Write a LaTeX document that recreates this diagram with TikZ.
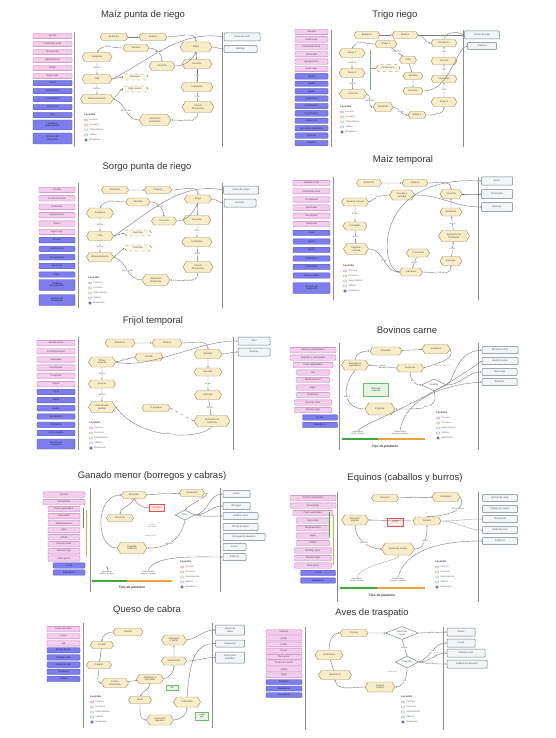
\documentclass[tikz,border=0pt]{standalone}
\usepackage{fontspec}
\setmainfont{Liberation Sans}
\usetikzlibrary{shapes.geometric,shapes.symbols,arrows.meta}
\definecolor{pkf}{HTML}{F4CCEE}
\definecolor{pkb}{HTML}{C27CC0}
\definecolor{blf}{HTML}{7D7DEE}
\definecolor{blb}{HTML}{4E4EC4}
\definecolor{hxf}{HTML}{F9EDC8}
\definecolor{hxb}{HTML}{A08C60}
\definecolor{otf}{HTML}{F2F6FB}
\definecolor{otb}{HTML}{6E7E90}
\definecolor{gnf}{HTML}{E6F4E2}
\definecolor{gnb}{HTML}{6CBF6A}
\definecolor{rdf}{HTML}{FDE8E8}
\definecolor{rdb}{HTML}{E05050}
\definecolor{lnc}{HTML}{8E8E8E}
\definecolor{cnc}{HTML}{7A7A7A}
\definecolor{grbar}{HTML}{3DAA3D}
\definecolor{orbar}{HTML}{F0A040}
\tikzset{
 tx/.style={font=\fontsize{2.4}{2.7}\selectfont, text=black!70, align=center, inner sep=0.3pt},
 pk/.style={tx, draw=pkb, fill=pkf, line width=0.4pt, rounded corners=0.8pt, minimum width=#1, minimum height=5.4pt},
 bl/.style={tx, draw=blb, fill=blf, line width=0.4pt, rounded corners=0.8pt, minimum width=#1, minimum height=5.4pt, text=black!85},
 hx/.style 2 args={tx, shape=signal, signal to=east and west, signal pointer angle=115, draw=hxb, fill=hxf, line width=0.45pt, minimum width=#1, minimum height=#2},
 dh/.style 2 args={hx={#1}{#2}, dashed, draw=hxb!80!black, fill=hxf!50},
 ot/.style 2 args={tx, draw=otb, fill=otf, line width=0.5pt, rounded corners=0.8pt, minimum width=#1, minimum height=#2},
 gb/.style 2 args={tx, draw=gnb, fill=gnf, line width=0.5pt, minimum width=#1, minimum height=#2},
 rb/.style 2 args={tx, draw=rdb, fill=rdf, line width=0.4pt, minimum width=#1, minimum height=#2, text=rdb},
 dm/.style 2 args={tx, diamond, aspect=2, draw=otb, fill=white, line width=0.45pt, minimum width=#1, minimum height=#2},
 ttl/.style={font=\fontsize{9.5}{11}\selectfont, text=black!80},
 vl/.style={draw=lnc, line width=0.9pt},
 cn/.style={draw=cnc, line width=0.4pt, -{Stealth[length=1.6pt,width=1.3pt]}},
 lab/.style={font=\fontsize{2.1}{2.4}\selectfont, text=black!70, fill=white, inner sep=0.2pt, align=center},
 lgh/.style={anchor=west, font=\fontsize{2.6}{3}\selectfont\bfseries, text=black!75, inner sep=0.2pt},
 lgt/.style={anchor=west, font=\fontsize{2.3}{2.7}\selectfont, text=black!60, inner sep=0.2pt},
 lgi/.style={minimum width=3pt, minimum height=2pt, inner sep=0pt, rounded corners=0.5pt, line width=0.3pt},
 gbar/.style={draw=grbar, line width=1.6pt},
 obar/.style={draw=orbar, line width=1.6pt},
 tp/.style={font=\fontsize{3.3}{4}\selectfont\bfseries, text=black!80},
 bk/.style={font=\fontsize{2.1}{2.4}\selectfont, text=black!65, align=center, inner sep=0.2pt}
}
\newcommand\lgnd[3]{%
 \begin{scope}[shift={(#2,#3)}]
 \node[lgh] (#1-0) at (0,0) {Leyenda};
 \node[lgi,draw=pkb,fill=pkf] (#1-i1) at (2,5) {};
 \node[lgt] (#1-t1) at (5,5) {Insumos};
 \node[lgi,draw=hxb,fill=hxf] (#1-i2) at (2,10) {};
 \node[lgt] (#1-t2) at (5,10) {Procesos};
 \node[lgi,draw=gnb,fill=gnf] (#1-i3) at (2,15) {};
 \node[lgt] (#1-t3) at (5,15) {Subproductos};
 \node[lgi,draw=otb,fill=otf] (#1-i4) at (2,20) {};
 \node[lgt] (#1-t4) at (5,20) {Salidas};
 \node[circle,draw=blb,fill=blf,minimum size=2.6pt,inner sep=0pt] (#1-i5) at (2,25) {};
 \node[lgt] (#1-t5) at (5,25) {Maquinaria};
 \end{scope}}
\begin{document}
\begin{tikzpicture}[x=1pt,y=-1pt]
\path[use as bounding box, fill=white] (0,0) rectangle (555,738);

%%%%%%%%%%%%%%%% Panel 1: Maiz punta de riego
\node[ttl] (a-t) at (143,15) {Maíz punta de riego};
\draw[vl] (74,32) -- (74,147);
\draw[vl] (222,32) -- (222,147);
\foreach \t [count=\i] in {Semilla,Fertilizante base,Fertilizantes,Agroquímicos,Diésel,Agua riego}
  \node[pk=39] (a-p\i) at (52.5,{28+8*\i}) {\t};
\foreach \t [count=\i] in {Tractor,Sembradora,Cosechadora,Aspersora,Pipa}
  \node[bl=39] (a-b\i) at (52.5,{75+8*\i}) {\t};
\node[bl=39,minimum height=10pt] (a-b6) at (52.5,125) {Trilladora\\desgranadora};
\node[bl=39,minimum height=11pt] (a-b7) at (52.5,138.5) {Vehículo de\\transporte};
\node[hx={28}{7}] (a-h1) at (114,37) {Barbecho};
\node[hx={28}{7}] (a-h2) at (153,37) {Rastreo};
\node[hx={26}{7}] (a-h3) at (136,48) {Siembra};
\node[hx={32}{10}] (a-h4) at (196,47) {Riego};
\node[hx={30}{9}] (a-h5) at (97,57) {Desgrane};
\node[hx={26}{9}] (a-h6) at (162,66) {Cosecha};
\node[hx={30}{9}] (a-h7) at (197,64) {Escarda};
\node[hx={30}{9}] (a-h8) at (97,79) {Trilla};
\node[dh={26}{6}] (a-d1) at (135,77) {Rastrojeo};
\node[dh={26}{6}] (a-d2) at (135,89) {Riego auxilio};
\node[hx={33}{9}] (a-h9) at (97,99) {Almacenamiento};
\node[hx={32}{9}] (a-h10) at (197,87) {Cultivadas};
\node[hx={32}{11}] (a-h11) at (198,107) {Control\\fitosanitario};
\node[hx={32}{11}] (a-h12) at (155,120) {Aplicación\\fertilizante};
\node[ot={36}{8}] (a-o1) at (242,37) {Grano de maíz};
\node[ot={33}{7}] (a-o2) at (240.5,49) {Rastrojo};
\draw[cn] (a-h1) -- (a-h2);
\draw[cn] (a-h2.east) to[out=0,in=90] (a-h4.north);
\draw[cn] (a-h3.west) to[out=180,in=60] node[lab] (a-l1) {180 km} (a-h5.north);
\draw[cn] (a-h5) -- node[lab] (a-l2) {190 km} (a-h8);
\draw[cn] (a-h8) -- node[lab] (a-l3) {160 km} (a-h9);
\draw[cn] (a-h12.west) to[out=180,in=-20] node[lab] (a-l4) {98-100 km} (a-h9.east);
\draw[cn] (a-h11.south) to[out=-90,in=0] node[lab] (a-l5) {50-58 km} (a-h12.east);
\draw[cn] (a-h10) -- node[lab] (a-l6) {2 km} (a-h11);
\draw[cn] (a-h7) -- node[lab] (a-l7) {3 km} (a-h10);
\draw[cn] (a-h4) -- (a-h7);
\draw[cn] (a-h3.east) to[out=0,in=90] node[lab] (a-l8) {160 km} (a-h6.north);
\draw[cn] (a-h6.east) to[out=0,in=-120] (a-h4.south);
\draw[cn] (a-h8.east) .. controls (150,60) and (180,30) .. (a-o1.west);
\draw[cn] (a-h4.east) to[out=0,in=180] (a-o2.west);
\draw[cn] (a-h8.east) -- (a-d1.west);
\draw[cn] (a-h9.east) -- (a-d2.west);
\lgnd{a-lg}{84}{115}

%%%%%%%%%%%%%%%% Panel 2: Trigo riego
\node[ttl] (b-t) at (395,15) {Trigo riego};
\draw[vl] (331,30) -- (331,147);
\draw[vl] (463,30) -- (463,147);
\foreach \t [count=\i] in {Semilla,Fertilizante,Fertilizante base,Herbicidas,Agroquímicos,Agua riego}
  \node[pk=33] (b-p\i) at (311.5,{24.6+7.4*\i}) {\t};
\foreach \t [count=\i] in {Tractor,Arado,Rastra,Sembradora,Fertilizadora,Cosechadora,Aspersora,Surcadora niveladora,Vehículo,Trilladora}
  \node[bl=33] (b-b\i) at (311.5,{69+7.4*\i}) {\t};
\node[hx={26}{7}] (b-h1) at (367,35) {Barbecho};
\node[hx={26}{7}] (b-h2) at (405,35) {Rastreo};
\node[hx={22}{7}] (b-h3) at (386,44) {Riego 1};
\node[hx={26}{9}] (b-h4) at (352,53) {Riego 2};
\node[hx={17}{7}] (b-h5) at (408,60) {Trilla};
\node[hx={26}{7}] (b-h6) at (444,43) {Nivelación};
\node[hx={26}{7}] (b-h7) at (444,61) {Surcado};
\node[hx={26}{9}] (b-h8) at (352,73) {Riego 3};
\node[dh={24}{7}] (b-d1) at (388,68) {Fertilización};
\node[hx={20}{7}] (b-h9) at (413,76) {Siembra};
\node[hx={26}{7}] (b-h10) at (444,79) {Fertilizado};
\node[hx={20}{7}] (b-h11) at (413,91) {Escarda};
\node[hx={27}{9}] (b-h12) at (353,94) {Cosecha};
\node[hx={26}{9}] (b-h13) at (444,102) {Riego 4};
\node[hx={20}{9}] (b-h14) at (383,107) {Herbicida};
\node[hx={18}{7}] (b-h15) at (417,115) {Riego 5};
\node[ot={35}{8}] (b-o1) at (482,35) {Grano de trigo};
\node[ot={29}{7}] (b-o2) at (482,46) {Rastrojo};
\draw[draw=gnb,line width=0.8pt] (370,50) -- (370,90);
\draw[draw=gnb,line width=0.5pt] (370,68) -- (b-d1.west);
\draw[cn] (b-h1) -- (b-h2);
\draw[cn] (b-h2.east) -- (b-o1.west);
\draw[cn] (b-h2.east) to[out=0,in=180] (b-h6.west);
\draw[cn] (b-h3.west) to[out=180,in=60] node[lab] (b-l1) {10-60 km} (b-h4.north);
\draw[cn] (b-h4) -- node[lab] (b-l2) {50-60 km} (b-h8);
\draw[cn] (b-h8) -- node[lab] (b-l3) {60 km} (b-h12);
\draw[cn] (b-h12.east) to[out=-10,in=180] node[lab] (b-l4) {40-60 km} (b-h14.west);
\draw[cn] (b-h14.east) to[out=-10,in=180] node[lab] (b-l5) {50 km} (b-h15.west);
\draw[cn] (b-h15.east) to[out=0,in=-90] node[lab] (b-l6) {3 km} (b-h13.south);
\draw[cn] (b-h13) -- node[lab] (b-l7) {3 km} (b-h10);
\draw[cn] (b-h10) -- node[lab] (b-l8) {2 km} (b-h7);
\draw[cn] (b-h7) -- node[lab] (b-l9) {2 km} (b-h6);
\draw[cn] (b-h3) -- node[lab] (b-l10) {50-80 km} (b-h5);
\draw[cn] (b-h5) -- (b-h9);
\draw[cn] (b-h9) -- (b-h11);
\draw[cn] (b-h11.east) .. controls (450,91) and (455,50) .. (b-o2.west);
\draw[cn] (b-h6.north) .. controls (444,34) and (455,30) .. (b-o1.west);
\lgnd{b-lg}{340}{107}

%%%%%%%%%%%%%%%% Panel 3: Sorgo punta de riego
\node[ttl] (c-t) at (147,167) {Sorgo punta de riego};
\draw[vl] (78,183) -- (78,308);
\draw[vl] (222,183) -- (222,308);
\foreach \t [count=\i] in {Semilla,Fertilizante base,Herbicidas,Agroquímicos,Diésel,Agua riego}
  \node[pk=36] (c-p\i) at (57,{181.5+8.4*\i}) {\t};
\foreach \t [count=\i] in {Tractor,Sembradora,Cosechadora,Aspersora,Pipa}
  \node[bl=36] (c-b\i) at (57,{231.5+8.6*\i}) {\t};
\node[bl=36,minimum height=11pt] (c-b6) at (57,285) {Trilladora\\desgranadora};
\node[bl=36,minimum height=11pt] (c-b7) at (57,300) {Vehículo de\\transporte};
\node[hx={27}{7}] (c-h1) at (115,190) {Barbecho};
\node[hx={27}{7}] (c-h2) at (158,190) {Rastreo};
\node[hx={27}{8}] (c-h3) at (198,199) {Riego};
\node[hx={24}{8}] (c-h4) at (138,202) {Siembra};
\node[hx={27}{10}] (c-h5) at (100,213) {Desgrane};
\node[hx={25}{8}] (c-h6) at (164,221) {Cosecha};
\node[hx={28}{9}] (c-h7) at (197,220) {Escarda};
\node[hx={27}{9}] (c-h8) at (100,236) {Trilla};
\node[dh={27}{6}] (c-d1) at (138,233) {Rastrojeo};
\node[dh={27}{6}] (c-d2) at (138,248) {Pastoreo};
\node[hx={27}{9}] (c-h9) at (100,257) {Almacenamiento};
\node[hx={30}{9}] (c-h10) at (197,242) {Cultivadas};
\node[hx={30}{11}] (c-h11) at (198,267) {Control\\fitosanitario};
\node[hx={28}{11}] (c-h12) at (156,280) {Aplicación\\fertilizante};
\node[ot={35}{8}] (c-o1) at (241,190) {Grano de sorgo};
\node[ot={32}{8}] (c-o2) at (240,203) {Rastrojo};
\draw[cn] (c-h1) -- (c-h2);
\draw[cn] (c-h2.east) to[out=0,in=90] (c-h3.north);
\draw[cn] (c-h4.west) to[out=180,in=60] node[lab] (c-l1) {180 km} (c-h5.north);
\draw[cn] (c-h5) -- node[lab] (c-l2) {190 km} (c-h8);
\draw[cn] (c-h8) -- node[lab] (c-l3) {160 km} (c-h9);
\draw[cn] (c-h12.west) to[out=180,in=-20] node[lab] (c-l4) {98-100 km} (c-h9.east);
\draw[cn] (c-h11.south) to[out=-90,in=0] node[lab] (c-l5) {50-58 km} (c-h12.east);
\draw[cn] (c-h10) -- node[lab] (c-l6) {2 km} (c-h11);
\draw[cn] (c-h7) -- node[lab] (c-l7) {3 km} (c-h10);
\draw[cn] (c-h3) -- (c-h7);
\draw[cn] (c-h4.east) to[out=0,in=90] node[lab] (c-l8) {160 km} (c-h6.north);
\draw[cn] (c-h6.east) to[out=0,in=-120] (c-h3.south);
\draw[cn] (c-h8.east) .. controls (150,212) and (180,182) .. (c-o1.west);
\draw[cn] (c-h3.east) to[out=0,in=180] (c-o2.west);
\draw[cn] (c-h8.east) -- (c-d1.west);
\draw[cn] (c-h9.east) -- (c-d2.west);
\lgnd{c-lg}{88}{278}

%%%%%%%%%%%%%%%% Panel 4: Maiz temporal
\node[ttl] (d-t) at (403,160) {Maíz temporal};
\draw[vl] (333,177) -- (333,300);
\draw[vl] (478,177) -- (478,300);
\foreach \t [count=\i] in {Semilla criolla,Fertilizante base,Fertilizantes,Herbicidas,Insecticidas,Composta}
  \node[pk=37] (d-p\i) at (311.5,{174.8+8.2*\i}) {\t};
\foreach \t [count=\i] in {Yunta,Arado,Rastra,Sembradora,Cultivadora,Pala y azadón}
  \node[bl=37] (d-b\i) at (311.5,{224.5+8.5*\i}) {\t};
\node[bl=37,minimum height=11pt] (d-b7) at (311.5,288) {Vehículo de\\transporte};
\node[hx={25}{7}] (d-h1) at (369,183) {Barbecho};
\node[hx={26}{7}] (d-h2) at (415,183) {Rastreo};
\node[hx={25}{10}] (d-h3) at (402,195) {Surcado y\\siembra};
\node[hx={27}{8}] (d-h4) at (355,202) {Siembra manual};
\node[hx={22}{9}] (d-h5) at (451,194) {Cosecha};
\node[hx={22}{8}] (d-h6) at (451,212) {Deshierbe};
\node[hx={24}{8}] (d-h7) at (355,226) {Fumigado};
\node[hx={31}{11}] (d-h8) at (454,236) {Aplicación de\\fertilizante};
\node[hx={25}{11}] (d-h9) at (356,249) {Segunda\\escarda};
\node[hx={23}{8}] (d-h10) at (418,253) {2ª escarda};
\node[hx={22}{9}] (d-h11) at (451,261) {Aporque};
\node[hx={23}{8}] (d-h12) at (411,272) {Labranza};
\node[ot={31}{8}] (d-o1) at (497,181) {Grano};
\node[ot={31}{9}] (d-o2) at (497,194) {Totomoxtle};
\node[ot={31}{9}] (d-o3) at (497,207) {Rastrojo};
\draw[cn] (d-h1) -- (d-h2);
\draw[cn] (d-h2.east) to[out=0,in=90] (d-h5.north);
\draw[cn] (d-h3.west) to[out=180,in=30] node[lab] (d-l1) {30 km} (d-h4.east);
\draw[cn] (d-h4) -- node[lab] (d-l2) {30 km} (d-h7);
\draw[cn] (d-h7) -- node[lab] (d-l3) {40 km} (d-h9);
\draw[cn] (d-h9.east) to[out=0,in=180] node[lab] (d-l4) {40 km} (d-h12.west);
\draw[cn] (d-h12.east) to[out=0,in=-90] node[lab] (d-l5) {100 km} (d-h11.south);
\draw[cn] (d-h11) -- node[lab] (d-l6) {40 km} (d-h8);
\draw[cn] (d-h8) -- node[lab] (d-l7) {60 km} (d-h6);
\draw[cn] (d-h6) -- (d-h5);
\draw[cn] (d-h10) -- node[lab] (d-l8) {40 km} (d-h12);
\draw[cn] (d-h12.west) .. controls (380,272) and (370,175) .. (d-o1.west);
\draw[cn] (d-h5.east) to[out=0,in=180] (d-o2.west);
\draw[cn] (d-h3.east) to[out=0,in=180] (d-o3.west);
\lgnd{d-lg}{343}{266}

%%%%%%%%%%%%%%%% Panel 5: Frijol temporal
\node[ttl] (e-t) at (153,321) {Frijol temporal};
\draw[vl] (78,337) -- (78,450);
\draw[vl] (233,337) -- (233,450);
\foreach \t [count=\i] in {Semilla criolla,Fertilizante base,Herbicidas,Insecticidas,Composta,Diésel}
  \node[pk=38] (e-p\i) at (56,{334.8+8.2*\i}) {\t};
\foreach \t [count=\i] in {Yunta,Arado,Rastra,Sembradora,Cultivadora,Pala y azadón}
  \node[bl=38] (e-b\i) at (56,{383.7+8.2*\i}) {\t};
\node[bl=38,minimum height=10pt] (e-b7) at (56,444) {Vehículo de\\transporte};
\node[hx={30}{8}] (e-h1) at (120,343) {Barbecho};
\node[hx={30}{8}] (e-h2) at (167,343) {Rastreo};
\node[hx={28}{9}] (e-h3) at (208,354) {Siembra};
\node[hx={27}{10}] (e-h4) at (102,362) {Trilla y\\limpieza};
\node[hx={28}{8}] (e-h5) at (149,357) {Secado};
\node[hx={28}{8}] (e-h6) at (208,372) {Escarda};
\node[hx={27}{8}] (e-h7) at (102,384) {Acarreo};
\node[hx={27}{9}] (e-h8) at (208,395) {Aporque};
\node[hx={27}{11}] (e-h9) at (102,407) {Almacenado\\familiar};
\node[hx={28}{7}] (e-h10) at (156,408) {2ª Aporque};
\node[hx={36}{11}] (e-h11) at (212,421) {Aplicación de\\herbicida};
\node[ot={32}{8}] (e-o1) at (254,341) {Frijol};
\node[ot={32}{8}] (e-o2) at (254,352) {Rastrojo};
\draw[cn] (e-h1) -- (e-h2);
\draw[cn] (e-h2.east) to[out=0,in=90] (e-h3.north);
\draw[cn] (e-h5.west) -- node[lab] (e-l1) {40 km} (e-h4.east);
\draw[cn] (e-h4) -- node[lab] (e-l2) {140 km} (e-h7);
\draw[cn] (e-h7) -- node[lab] (e-l3) {140 km} (e-h9);
\draw[cn] (e-h11.south) .. controls (200,440) and (140,440) .. node[lab] (e-l4) {40 km} (e-h9.east);
\draw[cn] (e-h8) -- node[lab] (e-l5) {80 km} (e-h11);
\draw[cn] (e-h6) -- node[lab] (e-l6) {40 km} (e-h8);
\draw[cn] (e-h3) -- (e-h6);
\draw[cn, dashed] (e-h10.east) -- (e-h11.west);
\draw[cn] (e-h4.east) .. controls (150,370) and (200,340) .. (e-o1.west);
\draw[cn] (e-h3.east) to[out=0,in=180] (e-o2.west);
\lgnd{e-lg}{89}{423}

%%%%%%%%%%%%%%%% Panel 6: Bovinos carne
\node[ttl] (f-t) at (407,330) {Bovinos carne};
\draw[vl] (339,343) -- (339,450);
\draw[vl] (478,343) -- (478,450);
\node[pk=46] (f-p1) at (313,350) {Becerros destetados};
\node[pk=46] (f-p2) at (313,357.5) {Vaquillas y sementales};
\node[pk=40] (f-p3) at (313,365) {Pasto agostadero};
\node[pk=33] (f-p4) at (313,372.5) {Sal};
\node[pk=33] (f-p5) at (313,380) {Medicamentos};
\node[pk=33] (f-p6) at (313,387.5) {Agua};
\node[pk=33] (f-p7) at (313,395) {Esquilmos};
\node[pk=37] (f-p8) at (313,402.5) {Rastrojo maíz};
\node[pk=37] (f-p9) at (313,410) {Rastrojo trigo};
\node[bl=35] (f-b1) at (320,417.5) {Corral};
\node[bl=35] (f-b2) at (320,425) {Bebederos};
\node[hx={27}{10}] (f-h1) at (355,365) {Engorde en\\agostadero};
\node[hx={32}{8}] (f-h2) at (386,351) {Empadre};
\node[hx={28}{9}] (f-h3) at (436,349) {Gestación};
\node[hx={27}{8}] (f-h4) at (410,368) {Lactancia};
\node[dm={25}{12}] (f-dm) at (434,385) {Destete};
\node[gb={25}{13}] (f-g1) at (376,390) {Mercado\\regional};
\node[hx={30}{12}] (f-h5) at (380,409) {Engorde};
\node[ot={36}{7}] (f-o1) at (500,350) {Becerros carne};
\node[ot={36}{7}] (f-o2) at (500,361) {Novillos carne};
\node[ot={35}{7}] (f-o3) at (499.5,372) {Vaca vieja};
\node[ot={35}{7}] (f-o4) at (499.5,382) {Estiércol};
\draw[cn] (f-h1.north) to[out=90,in=180] (f-h2.west);
\draw[cn] (f-h2) -- (f-h3);
\draw[cn] (f-h3.east) .. controls (455,360) and (440,362) .. (f-h4.east);
\draw[cn] (f-h4.west) -- node[lab] (f-l1) {Venta\\destete} (f-h1.east);
\node[lab,text=black!40] (f-l2) at (442,366) {Destete 7 meses};
\draw[cn] (f-h4.south) to[out=-90,in=180] node[lab] (f-l3) {8 m} (f-dm.west);
\draw[cn] (f-dm.south) .. controls (440,410) and (420,409) .. node[lab] (f-l4) {18 m} (f-h5.east);
\draw[cn] (f-h5.west) .. controls (345,409) and (340,390) .. node[lab] (f-l5) {Recría} (f-h1.south);
\draw[cn] (f-dm.east) .. controls (455,380) and (455,352) .. (f-o1.west);
\draw[cn] (f-dm.east) to[out=0,in=180] (f-o3.west);
\draw[gbar] (342,439) -- (378,439);
\draw[obar] (378,439) -- (425,439);
\node[bk] (f-k1) at (358,433) {Agostadero\\pasto - forrajes};
\node[bk] (f-k2) at (400,433) {Trashumante\\forrajes - rastrojo};
\node[tp] (f-tp) at (385,447) {Tipo de pastoreo};
\draw[cn] (f-k2.north) .. controls (405,400) and (440,385) .. (f-o4.west);
\draw[cn] (f-k1.north) .. controls (370,420) and (420,405) .. (f-o2.west);
\lgnd{f-lg}{436}{413}

%%%%%%%%%%%%%%%% Panel 7: Ganado menor
\node[ttl] (g-t) at (152,476) {Ganado menor (borregos y cabras)};
\draw[vl] (90,488) -- (90,592);
\draw[vl] (220,488) -- (220,592);
\node[pk=42] (g-p1) at (64,494.5) {Vientres};
\node[pk=42] (g-p2) at (64,502) {Sementales};
\foreach \t [count=\i] in {Pasto agostadero,Sal común,Medicamentos,Agua,Alfalfa,Rastrojo maíz,Rastrojo trigo,Maíz grano}
  \node[pk=32] (g-q\i) at (64,{502+7.05*\i}) {\t};
\node[bl=32] (g-b1) at (69,565.5) {Corral};
\node[bl=32] (g-b2) at (69,572.5) {Bebederos};
\draw[draw=grbar,line width=0.6pt] (83,508) -- (83,528);
\draw[draw=orbar,line width=0.6pt] (86,510) -- (86,557);
\node[hx={25}{7}] (g-h1) at (134,495) {Empadre};
\node[hx={25}{7}] (g-h2) at (192,493) {Gestación};
\node[rb={15}{7}] (g-r1) at (157,508) {Pérdidas};
\node[dm={20}{10}] (g-dm) at (185,515) {Parto};
\node[hx={27}{7}] (g-h3) at (120,518) {Desecho};
\node[hx={30}{11}] (g-h4) at (132,548) {Engorda\\pastoreo};
\node[ot={27}{7}] (g-o1) at (236.5,494) {Carne};
\node[ot={27}{7}] (g-o2) at (236.5,506) {Borregos};
\node[ot={35}{7}] (g-o3) at (240.5,516) {Cabritos vivos};
\node[ot={35}{7}] (g-o4) at (240.5,527) {Chivas de leche};
\node[ot={42}{7}] (g-o5) at (244,537) {Borregas de desecho};
\node[ot={23}{7}] (g-o6) at (234.5,547) {Leche};
\node[ot={23}{7}] (g-o7) at (234.5,557) {Estiércol};
\draw[cn] (g-h1) -- node[lab] (g-l1) {5 meses} (g-h2);
\draw[cn] (g-h2.east) to[out=0,in=45] node[lab] (g-l2) {5 m} (g-dm.north);
\draw[cn] (g-dm.south) .. controls (180,545) and (160,548) .. node[lab] (g-l3) {Destete} (g-h4.east);
\draw[cn] (g-h4.west) .. controls (95,548) and (95,495) .. (g-h1.west);
\draw[cn, draw=rdb] (g-r1.west) to[out=180,in=-60] (g-h1.south);
\draw[cn] (g-h1.south) to[out=-110,in=80] (g-h3.north);
\draw[cn] (g-dm.east) to[out=10,in=180] (g-o1.west);
\draw[cn] (g-dm.east) to[out=0,in=180] (g-o2.west);
\draw[cn] (g-dm.east) to[out=-10,in=180] (g-o3.west);
\node[lab,text=black!50] (g-l4) at (152,526) {Venta\\mercado};
\node[lab,text=black!50] (g-l5) at (150,536) {Venta local};
\draw[gbar] (92,581) -- (127,581);
\draw[obar] (127,581) -- (172,581);
\node[bk] (g-k1) at (107,573) {Agostadero\\pasto - forrajes};
\node[bk] (g-k2) at (148,573) {Trashumante\\forrajes - rastrojo};
\node[tp] (g-tp) at (132,588) {Tipo de pastoreo};
\draw[cn] (g-k2.north) .. controls (155,555) and (190,557) .. (g-o7.west);
\draw[cn, draw=black!40] (g-k1.north) -- (107,566);
\lgnd{g-lg}{180}{562}

%%%%%%%%%%%%%%%% Panel 8: Equinos
\node[ttl] (k-t) at (405,478) {Equinos (caballos y burros)};
\draw[vl] (337,492) -- (337,602);
\draw[vl] (478,492) -- (478,602);
\node[pk=46] (k-p1) at (313,498) {Potrillos destetados};
\node[pk=46] (k-p2) at (313,505.5) {Sementales};
\node[pk=40] (k-p3) at (313,513) {Pasto agostadero};
\node[pk=33] (k-p4) at (313,520.5) {Sal común};
\node[pk=33] (k-p5) at (313,528) {Medicamentos};
\node[pk=33] (k-p6) at (313,535.5) {Agua};
\node[pk=33] (k-p7) at (313,543) {Alfalfa};
\node[pk=37] (k-p8) at (313,550.5) {Rastrojo maíz};
\node[pk=37] (k-p9) at (313,558) {Rastrojo trigo};
\node[pk=37] (k-p10) at (313,565.5) {Maíz grano};
\node[bl=35] (k-b1) at (318,573) {Corral};
\node[bl=35] (k-b2) at (318,580.5) {Bebederos};
\draw[draw=grbar,line width=0.6pt] (329,512) -- (329,537);
\draw[draw=orbar,line width=0.6pt] (333,515) -- (333,565);
\node[hx={27}{7}] (k-h1) at (385,498) {Desecho};
\node[hx={28}{9}] (k-h2) at (446,497) {Gestación};
\node[hx={27}{10}] (k-h3) at (355,520) {Empadre\\yeguas};
\node[rb={16}{8}] (k-r1) at (395,522) {Venta};
\node[hx={28}{8}] (k-h4) at (427,521) {Destete};
\node[hx={33}{12}] (k-h5) at (398,549) {Animal de trabajo};
\node[ot={35}{7}] (k-o1) at (500,498) {Animal de carga};
\node[ot={35}{7}] (k-o2) at (500,509) {Trabajo en campo};
\node[ot={35}{7}] (k-o3) at (500,519) {Transporte};
\node[ot={35}{7}] (k-o4) at (500,530) {Venta de crías};
\node[ot={35}{7}] (k-o5) at (500,541) {Estiércol};
\draw[cn] (k-h1) -- node[lab] (k-l1) {12 meses} (k-h2);
\draw[cn] (k-h2.east) .. controls (465,505) and (460,515) .. node[lab] (k-l2) {10-16 meses} (k-h4.north);
\draw[cn] (k-h4.west) -- (k-h3.east);
\draw[cn] (k-h3.south) .. controls (355,540) and (370,549) .. node[lab] (k-l3) {3-4 años} (k-h5.west);
\draw[cn] (k-h5.east) to[out=0,in=-90] node[lab] (k-l4) {Doma} (k-h4.south);
\draw[cn, draw=black!35] (k-h4.east) to[out=0,in=180] (k-o3.west);
\draw[cn, draw=black!35] (k-h4.east) to[out=0,in=180] (k-o4.west);
\draw[gbar] (340,588) -- (377,588);
\draw[obar] (377,588) -- (425,588);
\node[bk] (k-k1) at (357,580) {Agostadero\\pasto - forrajes};
\node[bk] (k-k2) at (398,580) {Trashumante\\forrajes - rastrojo};
\node[tp] (k-tp) at (382,596) {Tipo de pastoreo};
\draw[cn] (k-k2.north) .. controls (405,550) and (440,541) .. (k-o5.west);
\draw[cn, draw=black!35] (k-k1.north) .. controls (360,565) and (400,560) .. (k-h5.south);
\lgnd{k-lg}{435}{562}

%%%%%%%%%%%%%%%% Panel 9: Queso de cabra
\node[ttl] (q-t) at (147,610) {Queso de cabra};
\draw[vl] (83,623) -- (83,728);
\draw[vl] (212,623) -- (212,728);
\foreach \t [count=\i] in {Leche de cabra,Cuajo,Sal}
  \node[pk=33] (q-p\i) at (63.5,{621.8+7.2*\i}) {\t};
\foreach \t [count=\i] in {Estufa de gas,Cubeta y olla,Manta de cielo,Coladores,Moldes}
  \node[bl=33] (q-b\i) at (63.5,{643+7.2*\i}) {\t};
\node[hx={30}{7}] (q-h1) at (128,632) {Ordeña};
\node[hx={23}{7}] (q-h2) at (102,645) {Colado};
\node[hx={25}{7}] (q-h3) at (99,665) {Cuajado};
\node[hx={27}{9}] (q-h4) at (115,683) {Corte y\\desuerado};
\node[hx={27}{9}] (q-h5) at (150,679) {Moldeado y\\prensado};
\node[hx={25}{10}] (q-h6) at (174,640) {Empaque\\y venta};
\node[hx={25}{8}] (q-h7) at (174,661) {Maduración};
\node[hx={23}{7}] (q-h8) at (140,700) {Suero};
\node[hx={27}{10}] (q-h9) at (187,702) {Calentado};
\node[hx={27}{10}] (q-h10) at (160,720) {Separación\\requesón};
\node[gb={12}{5}] (q-g1) at (172,688) {Sal};
\node[gb={13}{8}] (q-g2) at (202,716) {Leña\\gas};
\node[ot={29}{10}] (q-o1) at (230,630) {Queso de\\cabra};
\node[ot={29}{7}] (q-o2) at (230,643.5) {Requesón};
\node[ot={29}{11}] (q-o3) at (230,657.5) {Suero para\\animales};
\draw[cn] (q-h1.west) to[out=180,in=90] (q-h2.north);
\draw[cn] (q-h2) -- (q-h3);
\draw[cn] (q-h3.south) to[out=-90,in=180] (q-h4.west);
\draw[cn] (q-h4) -- (q-h5);
\draw[cn] (q-h5.east) to[out=20,in=-90] (q-h7.south);
\draw[cn] (q-h7) -- (q-h6);
\draw[cn] (q-h6.east) to[out=10,in=180] (q-o1.west);
\draw[cn] (q-h5.south) to[out=-100,in=60] (q-h8.north);
\draw[cn] (q-h8.south) to[out=-90,in=180] (q-h10.west);
\draw[cn] (q-h10.east) to[out=0,in=-90] (q-h9.south);
\draw[cn] (q-h9.north) .. controls (190,660) and (195,644) .. (q-o2.west);
\draw[cn] (q-h7.east) to[out=0,in=180] (q-o3.west);
\lgnd{q-lg}{90}{697}

%%%%%%%%%%%%%%%% Panel 10: Aves de traspatio
\node[ttl] (v-t) at (372,613) {Aves de traspatio};
\draw[vl] (305,627) -- (305,730);
\draw[vl] (443,627) -- (443,730);
\foreach \t [count=\i] in {Gallinas,Gallos,Pollos,Pavos,Maíz grano,Restos de cocina,Alfalfa,Agua}
  \node[pk=36,minimum height=5pt] (v-p\i) at (284,{625.8+6.2*\i}) {\t};
\foreach \t [count=\i] in {Gallinero,Bebederos,Comederos}
  \node[bl=36,minimum height=5pt] (v-b\i) at (284,{675.5+6.5*\i}) {\t};
\node[hx={28}{7}] (v-h1) at (354,633) {Postura};
\node[dm={33}{13}] (v-dm1) at (402,633) {Selección\\huevo};
\node[hx={28}{9}] (v-h2) at (329,655) {Incubación};
\node[dm={23}{12}] (v-dm2) at (407,662) {Engorda};
\node[hx={33}{9}] (v-h3) at (335,675) {Nacimiento};
\node[hx={30}{10}] (v-h4) at (380,687) {Crianza\\pollitos};
\node[ot={28}{8}] (v-o1) at (461,632) {Huevo};
\node[ot={28}{8}] (v-o2) at (461,643) {Carne};
\node[ot={38}{8}] (v-o3) at (466,653) {Gallinas vivas};
\node[ot={40}{8}] (v-o4) at (467,664) {Gallinas de desecho};
\draw[cn] (v-h1) -- (v-dm1);
\draw[cn] (v-dm1.east) -- node[lab] (v-l1) {Venta} (v-o1.west);
\draw[cn] (v-dm1.south) -- node[lab] (v-l2) {Huevo} (v-dm2.north);
\draw[cn] (v-dm2.east) to[out=20,in=180] node[lab] (v-l3) {6 m} (v-o2.west);
\draw[cn] (v-dm2.east) to[out=0,in=180] (v-o3.west);
\draw[cn] (v-dm2.east) to[out=-10,in=180] node[lab] (v-l4) {2 años} (v-o4.west);
\draw[cn] (v-dm2.south) to[out=-90,in=0] node[lab] (v-l5) {4 m} (v-h4.east);
\draw[cn] (v-h4.west) to[out=180,in=-80] (v-h3.south);
\draw[cn] (v-h3) -- (v-h2);
\draw[cn] (v-h2.north) to[out=90,in=180] (v-h1.west);
\node[lab,text=black!50] (v-l6) at (392,672) {Selección};
\lgnd{v-lg}{401}{697}
\end{tikzpicture}
\end{document}
